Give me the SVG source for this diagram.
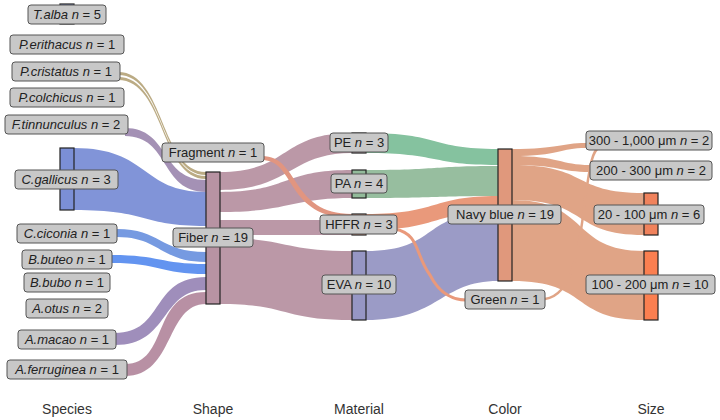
<svg xmlns="http://www.w3.org/2000/svg" width="720" height="420" viewBox="0 0 720 420">
<style>
.lb rect{fill:#c8c8c8;stroke:#555;stroke-width:1}
text{font-family:"Liberation Sans",Arial,sans-serif;font-size:13px;fill:#222;text-anchor:middle}
.ax{font-size:14px;fill:#333}
.bar{stroke:#222;stroke-width:1.2}
.f{opacity:0.95}
</style>
<rect width="720" height="420" fill="#fff"/>
<g id="connectors" class="f">
<!-- species to shape -->
<path d="M118,72 C165,72 160,172 206,172 L206,175 C160,175 165,75 118,75 Z" fill="#b8a77e"/>
<path d="M118,77 C165,77 160,176 206,176 L206,179 C160,179 165,80 118,80 Z" fill="#b8a77e"/>
<path d="M125,128 C170,128 160,180 206,180 L206,192 C160,192 170,136 125,136 Z" fill="#a08cb2"/>
<path d="M74,148 C150,148 140,192 206,192 L206,226 C140,226 150,210 74,210 Z" fill="#7b8fd6"/>
<path d="M117,229 C160,229 160,252 206,252 L206,262 C160,262 160,237 117,237 Z" fill="#6f95e0"/>
<path d="M112,255 C160,255 160,264 206,264 L206,274 C160,274 160,263 112,263 Z" fill="#5b8ff0"/>
<path d="M115,333 C165,333 150,277 206,277 L206,290 C160,290 170,345 115,345 Z" fill="#9a88b8"/>
<path d="M125,364 C170,364 150,292 206,292 L206,304 C165,304 175,376 125,376 Z" fill="#b58ba0"/>
<!-- shape to material -->
<path d="M220,172 C290,172 280,133 352,133 L352,153 C290,153 290,190 220,190 Z" fill="#b893a3"/>
<path d="M220,192 C290,192 280,170 352,170 L352,198 C290,198 290,212 220,212 Z" fill="#b893a3"/>
<path d="M220,220 L352,220 L352,235 L220,235 Z" fill="#b893a3"/>
<path d="M220,238 C290,238 280,251 352,251 L352,320 C280,320 290,304 220,304 Z" fill="#b893a3"/>
<path d="M262,156 C300,156 290,214 352,214 L352,218 C285,218 296,160 262,160 Z" fill="#e0907a"/>
<!-- material to color -->
<path d="M366,133 C440,133 430,149 498,149 L498,165 C430,165 440,153 366,153 Z" fill="#7fbf9a"/>
<path d="M366,170 C440,170 430,166 498,166 L498,196 C430,196 440,198 366,198 Z" fill="#92bb9a"/>
<path d="M366,214 C440,214 430,196 498,196 L498,212 C430,212 440,230 366,230 Z" fill="#e89474"/>
<path d="M366,251 C440,251 420,212 498,212 L498,281 C440,281 440,320 366,320 Z" fill="#9696c4"/>
<path d="M395,229 C420,234 415,255 430,275 C440,295 455,300 466,300" fill="none" stroke="#e89474" stroke-width="3"/>
<!-- color to size -->
<path d="M512,149 C560,149 560,143 586,143 L586,148 C560,148 560,156 512,156 Z" fill="#dfa080"/>
<path d="M512,156 C560,156 560,165 590,165 L590,172 C560,172 560,165 512,165 Z" fill="#dfa080"/>
<path d="M512,165 C590,165 570,193 644,193 L644,235 C570,235 590,200 512,200 Z" fill="#dfa080"/>
<path d="M512,200 C590,200 570,251 644,251 L644,320 C570,320 590,281 512,281 Z" fill="#dfa080"/>
<path d="M545,299 C575,295 580,240 585,200 C590,165 592,150 600,147" fill="none" stroke="#dfa080" stroke-width="2.5"/>
</g>
<g id="bars">
<rect class="bar" x="60" y="4" width="14" height="20" fill="#7b8fd6"/>
<rect class="bar" x="60" y="148" width="14" height="62" fill="#7b8fd6"/>
<rect class="bar" x="206" y="172" width="14" height="132" fill="#b893a3"/>
<rect class="bar" x="352" y="133" width="14" height="20" fill="#b893a3"/>
<rect class="bar" x="352" y="170" width="14" height="28" fill="#92bb9a"/>
<rect class="bar" x="352" y="214" width="14" height="21" fill="#e89474"/>
<rect class="bar" x="352" y="251" width="14" height="69" fill="#9696c4"/>
<rect class="bar" x="498" y="149" width="14" height="132" fill="#e0987c"/>
<rect class="bar" x="644" y="193" width="14" height="42" fill="#f0825c"/>
<rect class="bar" x="644" y="251" width="14" height="69" fill="#fb7f50"/>
</g>
<g id="n-talba" class="lb"><rect x="28" y="5" width="78" height="19" rx="3"/><text x="67" y="19"><tspan font-style="italic">T.alba n</tspan> = 5</text></g>
<g id="n-perithacus" class="lb"><rect x="10" y="35" width="114" height="19" rx="3"/><text x="67" y="49"><tspan font-style="italic">P.erithacus n</tspan> = 1</text></g>
<g id="n-pcristatus" class="lb"><rect x="12" y="62" width="108" height="19" rx="3"/><text x="66" y="76"><tspan font-style="italic">P.cristatus n</tspan> = 1</text></g>
<g id="n-pcolchicus" class="lb"><rect x="10" y="88" width="114" height="19" rx="3"/><text x="67" y="102"><tspan font-style="italic">P.colchicus n</tspan> = 1</text></g>
<g id="n-ftinnunculus" class="lb"><rect x="5" y="115" width="123" height="19" rx="3"/><text x="66" y="129"><tspan font-style="italic">F.tinnunculus n</tspan> = 2</text></g>
<g id="n-cgallicus" class="lb"><rect x="15" y="170" width="103" height="19" rx="3"/><text x="66" y="184"><tspan font-style="italic">C.gallicus n</tspan> = 3</text></g>
<g id="n-cciconia" class="lb"><rect x="17" y="224" width="100" height="19" rx="3"/><text x="67" y="238"><tspan font-style="italic">C.ciconia n</tspan> = 1</text></g>
<g id="n-bbuteo" class="lb"><rect x="22" y="250" width="90" height="19" rx="3"/><text x="67" y="264"><tspan font-style="italic">B.buteo n</tspan> = 1</text></g>
<g id="n-bbubo" class="lb"><rect x="24" y="273" width="86" height="19" rx="3"/><text x="67" y="287"><tspan font-style="italic">B.bubo n</tspan> = 1</text></g>
<g id="n-aotus" class="lb"><rect x="26" y="299" width="82" height="19" rx="3"/><text x="67" y="313"><tspan font-style="italic">A.otus n</tspan> = 2</text></g>
<g id="n-amacao" class="lb"><rect x="18" y="330" width="98" height="19" rx="3"/><text x="67" y="344"><tspan font-style="italic">A.macao n</tspan> = 1</text></g>
<g id="n-aferruginea" class="lb"><rect x="7" y="360" width="120" height="19" rx="3"/><text x="67" y="374"><tspan font-style="italic">A.ferruginea n</tspan> = 1</text></g>
<g id="n-fragment" class="lb"><rect x="162" y="143" width="102" height="19" rx="3"/><text x="213" y="157">Fragment <tspan font-style="italic">n</tspan> = 1</text></g>
<g id="n-fiber" class="lb"><rect x="173" y="228" width="80" height="19" rx="3"/><text x="213" y="242">Fiber <tspan font-style="italic">n</tspan> = 19</text></g>
<g id="n-pe" class="lb"><rect x="330" y="133" width="58" height="19" rx="3"/><text x="359" y="147">PE <tspan font-style="italic">n</tspan> = 3</text></g>
<g id="n-pa" class="lb"><rect x="331" y="174" width="56" height="19" rx="3"/><text x="359" y="188">PA <tspan font-style="italic">n</tspan> = 4</text></g>
<g id="n-hffr" class="lb"><rect x="320" y="215" width="77" height="19" rx="3"/><text x="359" y="229">HFFR <tspan font-style="italic">n</tspan> = 3</text></g>
<g id="n-eva" class="lb"><rect x="322" y="275" width="74" height="19" rx="3"/><text x="359" y="289">EVA <tspan font-style="italic">n</tspan> = 10</text></g>
<g id="n-navy" class="lb"><rect x="448" y="205" width="113" height="19" rx="3"/><text x="505" y="219">Navy blue <tspan font-style="italic">n</tspan> = 19</text></g>
<g id="n-green" class="lb"><rect x="465" y="290" width="80" height="19" rx="3"/><text x="505" y="304">Green <tspan font-style="italic">n</tspan> = 1</text></g>
<g id="n-s300" class="lb"><rect x="586" y="131" width="126" height="19" rx="3"/><text x="649" y="145">300 - 1,000 μm <tspan font-style="italic">n</tspan> = 2</text></g>
<g id="n-s200" class="lb"><rect x="590" y="161" width="122" height="19" rx="3"/><text x="651" y="175">200 - 300 μm <tspan font-style="italic">n</tspan> = 2</text></g>
<g id="n-s20" class="lb"><rect x="594" y="205" width="110" height="19" rx="3"/><text x="649" y="219">20 - 100 μm <tspan font-style="italic">n</tspan> = 6</text></g>
<g id="n-s100" class="lb"><rect x="586" y="275" width="129" height="19" rx="3"/><text x="650" y="289">100 - 200 μm <tspan font-style="italic">n</tspan> = 10</text></g>
<g id="axis">
<text class="ax" x="67" y="414">Species</text>
<text class="ax" x="213" y="414">Shape</text>
<text class="ax" x="359" y="414">Material</text>
<text class="ax" x="505" y="414">Color</text>
<text class="ax" x="651" y="414">Size</text>
</g>
</svg>
